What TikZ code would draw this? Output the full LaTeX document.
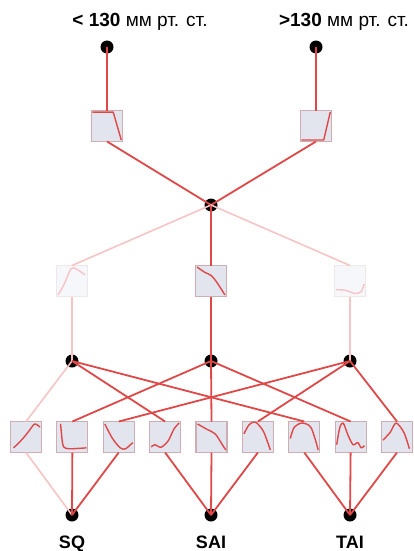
\documentclass[tikz,border=0pt]{standalone}
\usepackage{fontspec}
\setmainfont{Liberation Sans}
\usepackage{tikz}
\usetikzlibrary{positioning}
\usepackage{xcolor}
\definecolor{wire}{RGB}{224,72,72}
\definecolor{wirefaint}{RGB}{246,196,196}
\definecolor{cell}{RGB}{226,228,238}
\definecolor{cellline}{RGB}{206,174,178}

\begin{document}
\begin{tikzpicture}[x=1pt, y=-1pt,
  hub/.style={circle, fill=black, inner sep=0pt, minimum size=13pt},
  cellbox/.style={draw=cellline, fill=cell, line width=1.1pt, minimum size=31pt, inner sep=0pt, outer sep=0pt},
  faintbox/.style={cellbox, draw=cellline!30, fill=cell!30},
  link/.style={draw=wire, line width=1.8pt},
  weak/.style={draw=wirefaint, line width=1.6pt},
  curve/.style={draw=wire, line width=1.4pt, line join=round},
  inbox/.style={shift={(#1.south west)}, x=31pt, y=31pt},
  lbl/.style={font=\fontsize{19}{21}\selectfont, anchor=base},
  outlbl/.style={font=\fontsize{18}{20}\selectfont\bfseries, anchor=base},
]
\useasboundingbox (0,0) rectangle (413,551);

% Inputs
\node[lbl] (lo) at (140,27) {\textbf{< 130} мм рт. ст.};
\node[lbl] (hi) at (344,27) {\textbf{>130} мм рт. ст.};
\node[hub] (t1) at (107,47) {};
\node[hub] (t2) at (316,47) {};

% First filters
\node[cellbox] (f1) at (107,126) {};
\node[cellbox] (f2) at (316,126) {};
\node[hub] (c) at (211,205) {};

% Middle filters
\node[faintbox] (m1) at (72,281) {};
\node[cellbox] (m2) at (211,281) {};
\node[faintbox] (m3) at (350,281) {};
\foreach \i/\x in {1/72,2/211,3/350}
  \node[hub] (d\i) at (\x,361) {};

% Output filters
\foreach \i in {1,...,9}
  \node[cellbox] (b\i) at ({26+46.375*(\i-1)},437) {};
\foreach \i/\x in {1/72,2/211,3/350}
  \node[hub] (o\i) at (\x,515) {};
\node[outlbl] (sq) at (72,548) {SQ};
\node[outlbl] (sai) at (211,548) {SAI};
\node[outlbl] (tai) at (350,548) {TAI};

% Connectors
\draw[link] (t1.center) -- (f1.north);
\draw[link] (t2.center) -- (f2.north);
\draw[link] (f1.south) -- (c.center);
\draw[link] (f2.south) -- (c.center);
\draw[weak] (c.center) -- (m1.north);
\draw[link] (c.center) -- (m2.north);
\draw[weak] (c.center) -- (m3.north);
\draw[weak] (m1.south) -- (d1.center);
\draw[link] (m2.south) -- (d2.center);
\draw[weak] (m3.south) -- (d3.center);
\draw[weak] (d1.center) -- (b1.north);
\foreach \a/\b in {1/4,1/7,2/2,2/5,2/8,3/3,3/6,3/9}
  \draw[link] (d\a.center) -- (b\b.north);
\draw[weak] (b1.south) -- (o1.center);
\foreach \b/\a in {2/1,3/1,4/2,5/2,6/2,7/3,8/3,9/3}
  \draw[link] (b\b.south) -- (o\a.center);

% Curves inside the filters
\draw[curve, inbox=f1] (0.03,0.95) -- (0.7,0.95) -- (0.96,0.05);
\draw[curve, inbox=f2] (0.03,0.05) -- (0.75,0.05) -- (0.96,0.95);
\draw[curve, draw=wirefaint, inbox=m1] plot[smooth] coordinates {(0.05,0.05) (0.25,0.4) (0.47,0.9) (0.65,0.88) (0.92,0.7)};
\draw[curve, inbox=m2] plot[smooth] coordinates {(0.05,0.95) (0.3,0.78) (0.5,0.68) (0.68,0.47) (0.95,0.05)};
\draw[curve, draw=wirefaint, inbox=m3] plot[smooth] coordinates {(0.05,0.22) (0.35,0.2) (0.65,0.1) (0.85,0.15) (0.96,0.4)};
\draw[curve, inbox=b1] plot[smooth] coordinates {(0.1,0.15) (0.4,0.45) (0.6,0.7) (0.78,0.92) (0.95,0.82)};
\draw[curve, inbox=b2] plot[smooth] coordinates {(0.12,0.92) (0.17,0.4) (0.22,0.18) (0.4,0.12) (0.95,0.15)};
\draw[curve, inbox=b3] plot[smooth] coordinates {(0.05,0.92) (0.3,0.45) (0.55,0.15) (0.72,0.12) (0.95,0.32)};
\draw[curve, inbox=b4] plot[smooth] coordinates {(0.05,0.18) (0.17,0.25) (0.37,0.17) (0.6,0.38) (0.78,0.75) (0.95,0.95)};
\draw[curve, inbox=b5] plot[smooth] coordinates {(0.05,0.92) (0.35,0.75) (0.62,0.6) (0.85,0.25) (0.96,0.08)};
\draw[curve, inbox=b6] plot[smooth] coordinates {(0.05,0.6) (0.22,0.9) (0.42,0.98) (0.68,0.68) (0.9,0.08)};
\draw[curve, inbox=b7] plot[smooth] coordinates {(0.05,0.45) (0.17,0.8) (0.42,0.95) (0.72,0.8) (0.95,0.08)};
\draw[curve, inbox=b8] plot[smooth] coordinates {(0.05,0.25) (0.15,0.8) (0.26,0.95) (0.42,0.55) (0.58,0.25) (0.73,0.32) (0.84,0.15) (0.95,0.22)};
\draw[curve, inbox=b9] plot[smooth] coordinates {(0.05,0.4) (0.28,0.65) (0.47,0.95) (0.72,0.65) (0.9,0.12)};
\end{tikzpicture}
\end{document}
